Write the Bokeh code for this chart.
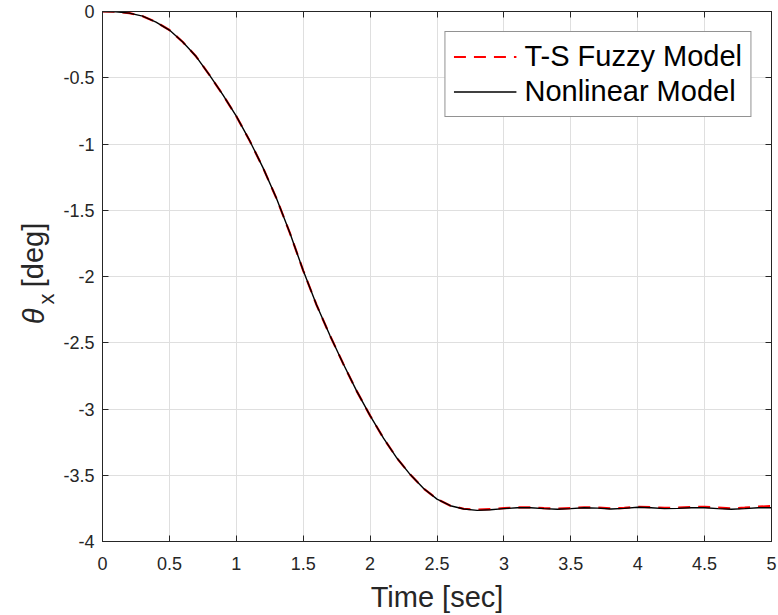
import math
from bokeh.plotting import figure
from bokeh.layouts import row
from bokeh.models import (Range1d, FixedTicker, LinearAxis, Legend, LegendItem, Label)
from bokeh.embed import file_html
from bokeh.resources import INLINE

# ---------------- data ----------------
time_s = [0.0, 0.1, 0.2, 0.3, 0.4, 0.5, 0.6, 0.7, 0.8, 0.9,
          1.0, 1.1, 1.2, 1.3, 1.4, 1.5, 1.6, 1.7, 1.8, 1.9,
          2.0, 2.1, 2.2, 2.3, 2.4, 2.5, 2.6, 2.7, 2.8, 2.9,
          3.0, 3.1, 3.2, 3.3, 3.4, 3.5, 3.6, 3.7, 3.8, 3.9,
          4.0, 4.1, 4.2, 4.3, 4.4, 4.5, 4.6, 4.7, 4.8, 4.9, 5.0]

nonlinear_deg = [0.0, -0.002, -0.012, -0.035, -0.08, -0.14, -0.23, -0.34, -0.48, -0.63,
                 -0.79, -0.975, -1.18, -1.41, -1.67, -1.955, -2.215, -2.445, -2.66, -2.865,
                 -3.05, -3.22, -3.37, -3.495, -3.60, -3.68, -3.73, -3.755, -3.765, -3.76,
                 -3.752, -3.745, -3.745, -3.752, -3.757, -3.752, -3.745, -3.748, -3.755, -3.75,
                 -3.742, -3.745, -3.752, -3.75, -3.745, -3.745, -3.752, -3.757, -3.752, -3.745, -3.745]

ts_fuzzy_deg = [0.0, -0.002, -0.012, -0.035, -0.08, -0.14, -0.23, -0.34, -0.48, -0.63,
                -0.79, -0.975, -1.18, -1.41, -1.67, -1.955, -2.215, -2.445, -2.66, -2.865,
                -3.05, -3.22, -3.37, -3.495, -3.60, -3.68, -3.73, -3.753, -3.76, -3.755,
                -3.748, -3.742, -3.742, -3.748, -3.752, -3.748, -3.742, -3.743, -3.75, -3.746,
                -3.738, -3.74, -3.746, -3.745, -3.74, -3.738, -3.744, -3.75, -3.745, -3.737, -3.733]

x_ticks = [0, 0.5, 1, 1.5, 2, 2.5, 3, 3.5, 4, 4.5, 5]
x_tick_labels = ["0", "0.5", "1", "1.5", "2", "2.5", "3", "3.5", "4", "4.5", "5"]
y_ticks = [0, -0.5, -1, -1.5, -2, -2.5, -3, -3.5, -4]
y_tick_labels = ["0", "-0.5", "-1", "-1.5", "-2", "-2.5", "-3", "-3.5", "-4"]

legend_labels = ["T-S Fuzzy Model", "Nonlinear Model"]
x_label = "Time [sec]"
y_label_parts = ["θ", "x", "[deg]"]

# ---------------- style ----------------
FONT = "Liberation Sans"
AX = "#262626"
GRID = "#dfdfdf"
W = 778
H = 615
LW = 60  # width of the narrow strip that carries the y-axis label

p = figure(width=W - LW, height=H, output_backend="svg", toolbar_location=None,
           x_range=Range1d(0, 5), y_range=Range1d(-4, 0),
           min_border_left=101 - LW, min_border_right=7, min_border_top=11, min_border_bottom=74)
p.background_fill_color = "white"
p.border_fill_color = "white"
p.outline_line_color = AX
p.outline_line_width = 1

def style_axis(ax, ticks, labels, show_labels=True):
    ax.ticker = FixedTicker(ticks=ticks)
    ax.minor_tick_line_color = None
    ax.major_tick_in = 6
    ax.major_tick_out = 0
    ax.major_tick_line_color = AX
    ax.major_tick_line_width = 1
    ax.axis_line_color = AX
    ax.major_label_text_font = FONT
    ax.major_label_text_font_size = "18px"
    ax.major_label_text_color = AX
    if show_labels:
        ax.major_label_overrides = {t: l for t, l in zip(ticks, labels)}
    else:
        ax.major_label_overrides = {t: "" for t in ticks}

style_axis(p.xaxis[0], x_ticks, x_tick_labels)
style_axis(p.yaxis[0], y_ticks, y_tick_labels)
p.xaxis[0].major_label_standoff = 15
p.yaxis[0].major_label_standoff = 8

p.xaxis[0].axis_label = x_label
p.xaxis[0].axis_label_text_font = FONT
p.xaxis[0].axis_label_text_font_size = "29px"
p.xaxis[0].axis_label_text_font_style = "normal"
p.xaxis[0].axis_label_text_color = AX
p.xaxis[0].axis_label_standoff = 8

top_ax = LinearAxis()
right_ax = LinearAxis()
style_axis(top_ax, x_ticks, x_tick_labels, show_labels=False)
style_axis(right_ax, y_ticks, y_tick_labels, show_labels=False)
top_ax.major_label_standoff = 0
right_ax.major_label_standoff = 0
p.add_layout(top_ax, "above")
p.add_layout(right_ax, "right")

p.xgrid.ticker = FixedTicker(ticks=x_ticks)
p.ygrid.ticker = FixedTicker(ticks=y_ticks)
for g in (p.xgrid[0], p.ygrid[0]):
    g.grid_line_color = GRID
    g.grid_line_width = 1

r_fuzzy = p.line(time_s, ts_fuzzy_deg, line_color="#ff0000", line_width=2.2, line_dash="12 8")
r_nonlin = p.line(time_s, nonlinear_deg, line_color="black", line_width=1.4)

legend = Legend(items=[LegendItem(label=legend_labels[0], renderers=[r_fuzzy]),
                       LegendItem(label=legend_labels[1], renderers=[r_nonlin])],
                location="top_right")
legend.label_text_font = FONT
legend.label_text_font_size = "29px"
legend.label_text_color = "black"
legend.border_line_color = AX
legend.border_line_width = 1
legend.background_fill_color = "white"
legend.background_fill_alpha = 1
legend.padding = 8
legend.spacing = 2
legend.glyph_width = 63
legend.glyph_height = 33
legend.label_height = 33
legend.label_standoff = 8
legend.margin = 20
p.add_layout(legend, "center")

# ---------- narrow strip with the rotated y-axis label (pixel coordinates) ----------
lab = figure(width=LW, height=H, output_backend="svg", toolbar_location=None,
             x_range=Range1d(0, LW), y_range=Range1d(0, H),
             min_border=0, min_border_left=0, min_border_right=0,
             min_border_top=0, min_border_bottom=0)
lab.axis.visible = False
lab.grid.visible = False
lab.outline_line_color = None
lab.background_fill_color = "white"
lab.border_fill_color = "white"

lab.add_layout(Label(x=33, y=252, text=y_label_parts[0],
                     angle=math.pi / 2, text_font=FONT, text_font_size="29px",
                     text_font_style="italic", text_color=AX,
                     text_align="left", text_baseline="alphabetic"))
lab.add_layout(Label(x=46, y=275, text=y_label_parts[1],
                     angle=math.pi / 2, text_font=FONT, text_font_size="22px",
                     text_color=AX, text_align="left", text_baseline="alphabetic"))
lab.add_layout(Label(x=32, y=295, text=y_label_parts[2],
                     angle=math.pi / 2, text_font=FONT, text_font_size="29px",
                     text_color=AX, text_align="left", text_baseline="alphabetic"))

layout = row(lab, p, spacing=0)
open("out.html", "w").write(file_html(layout, INLINE))
